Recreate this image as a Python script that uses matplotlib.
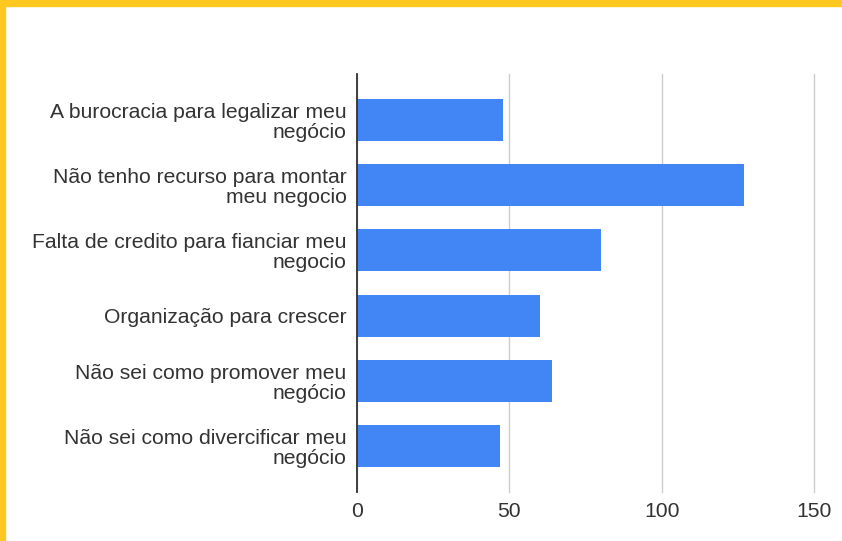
import matplotlib.pyplot as plt
from matplotlib.patches import Rectangle

categorias = [
    "A burocracia para legalizar meu\nnegócio",
    "Não tenho recurso para montar\nmeu negocio",
    "Falta de credito para fianciar meu\nnegocio",
    "Organização para crescer",
    "Não sei como promover meu\nnegócio",
    "Não sei como divercificar meu\nnegócio",
]
valores = [48, 127, 80, 60, 64, 47]
xticks = [0, 50, 100, 150]

plt.rcParams['font.family'] = ['Liberation Sans', 'DejaVu Sans']

fig = plt.figure(figsize=(8.42, 5.41), dpi=100)
ax = fig.add_axes([357/842, 1-492/541, (814-357)/842, (492-74)/541])

pos = list(range(len(categorias)))
ax.barh(pos, valores, height=0.645, color='#4285F4', zorder=3)

ax.set_ylim(len(categorias) - 1 + 0.705, -0.705)
ax.set_xlim(0, 150)
ax.set_yticks(pos)
ax.set_yticklabels(categorias, fontsize=15.2, color='#333333', linespacing=1.06)
ax.set_xticks(xticks)
ax.set_xticklabels([str(t) for t in xticks], fontsize=15.2, color='#333333')
ax.tick_params(axis='y', length=0, pad=7.5)
ax.tick_params(axis='x', length=0, pad=7)

ax.grid(axis='x', color='#cccccc', linewidth=1, zorder=0)
for gl in ax.get_xgridlines():
    gl.set_clip_on(False)
for s in ['top', 'right', 'bottom']:
    ax.spines[s].set_visible(False)
ax.spines['left'].set_color('#333333')
ax.spines['left'].set_linewidth(1.3)
ax.spines['left'].set_zorder(4)

# moldura amarela
fig.patches.append(Rectangle((0, 1-6/541), 1, 6/541, transform=fig.transFigure,
                             color='#FEC820', zorder=10))
fig.patches.append(Rectangle((0, 0), 5/842, 1, transform=fig.transFigure,
                             color='#FEC820', zorder=10))

fig.savefig('out.png', dpi=100)
